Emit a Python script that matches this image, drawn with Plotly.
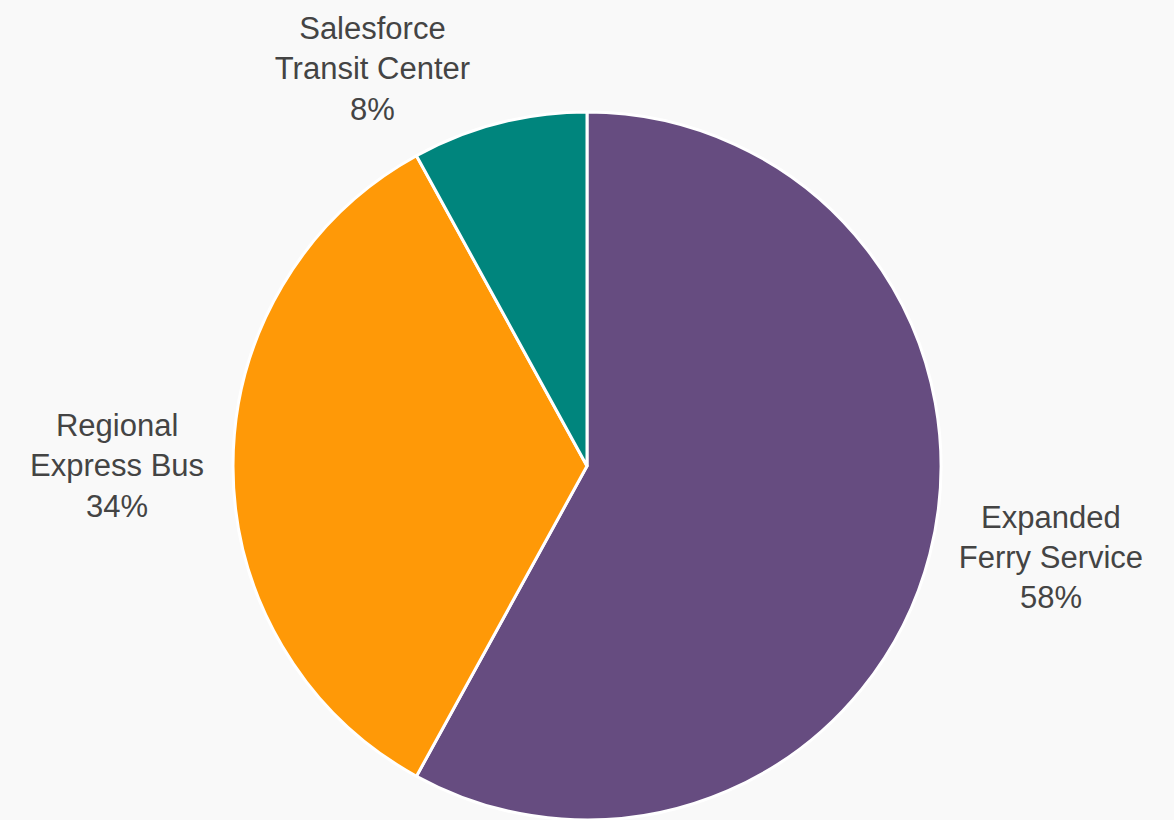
import plotly.graph_objects as go

labels = ["Expanded Ferry Service", "Regional Express Bus", "Salesforce Transit Center"]
display_labels = ["Expanded<br>Ferry Service", "Regional<br>Express Bus", "Salesforce<br>Transit Center"]
values = [58, 34, 8]
colors = ["#664c80", "#ff9907", "#00857d"]

fig = go.Figure(go.Pie(
    labels=labels,
    values=values,
    customdata=display_labels,
    texttemplate="%{customdata}<br>%{percent:.0%}",
    textposition="outside",
    automargin=False,
    sort=False,
    direction="clockwise",
    rotation=0,
    marker=dict(colors=colors, line=dict(color="white", width=3)),
    textfont=dict(family="Liberation Sans, Arial, sans-serif", size=31, color="#444444"),
    showlegend=False,
    hoverinfo="label+percent",
))
fig.update_layout(
    width=1174, height=820,
    margin=dict(l=0, r=0, t=112, b=0),
    paper_bgcolor="#f9f9f9",
    plot_bgcolor="#f9f9f9",
)
fig.write_html("out.html", post_script="document.body.style.margin='0px';",
               config={"displayModeBar": False})
